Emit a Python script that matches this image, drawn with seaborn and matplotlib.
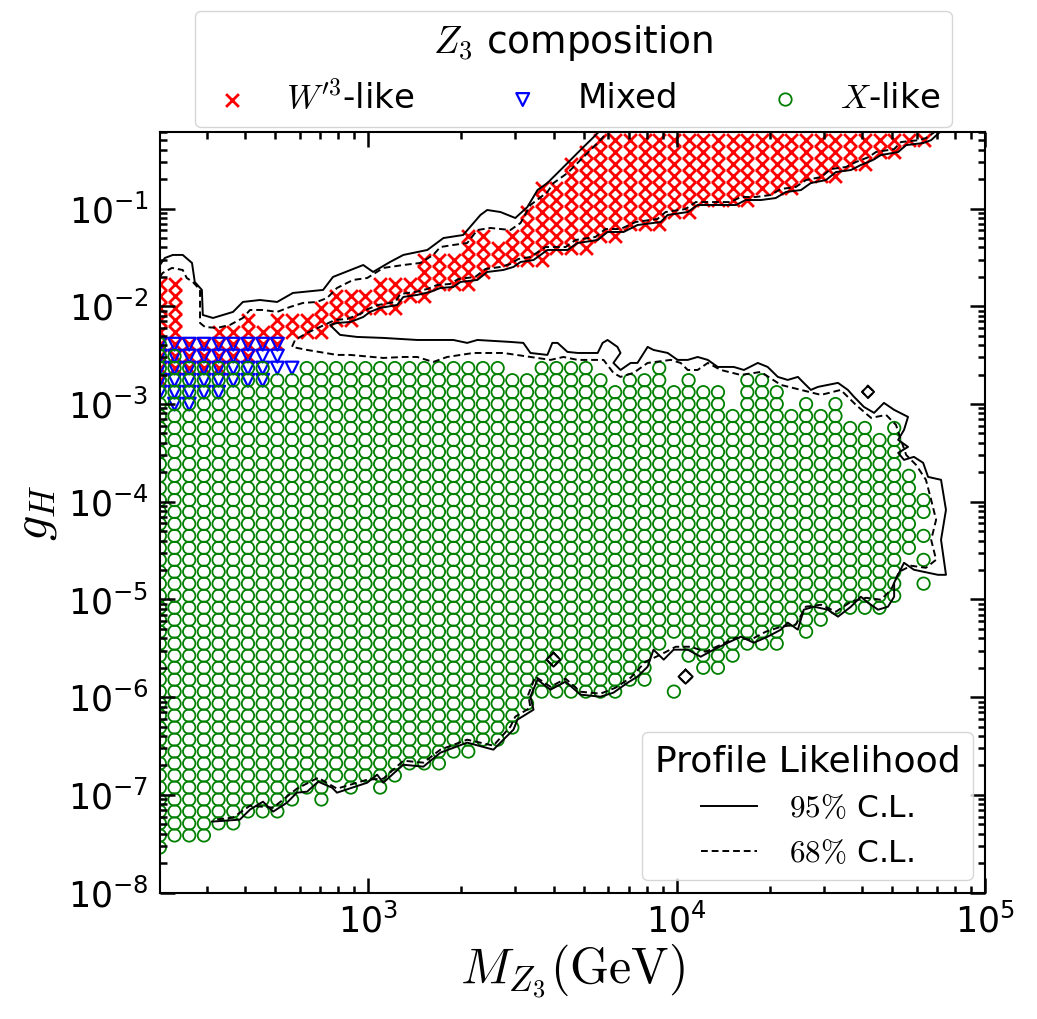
import matplotlib
matplotlib.use("Agg")
import matplotlib.pyplot as plt
from matplotlib.lines import Line2D
from matplotlib.ticker import LogLocator, NullFormatter
import numpy as np
import pandas as pd
import seaborn as sns

# scan grid
mass_grid = [211.2, 235.7, 263.0, 293.5, 327.5, 365.4, 407.7, 455.0, 507.7, 566.5,
             632.2, 705.4, 787.1, 878.4, 980.1, 1093.7, 1220.4, 1361.8, 1519.6, 1695.6,
             1892.1, 2111.4, 2356.0, 2629.0, 2933.6, 3273.4, 3652.6, 4075.8, 4548.0, 5074.9,
             5662.9, 6319.0, 7051.2, 7868.0, 8779.6, 9796.8, 10932, 12198, 13611, 15188,
             16948, 18912, 21103, 23547, 26275, 29320, 32717, 36508, 40737, 45457,
             50724, 56600, 63158]
g_grid = [2.90e-8, 3.85e-8, 5.11e-8, 6.78e-8, 8.98e-8, 1.19e-7, 1.58e-7, 2.10e-7, 2.78e-7, 3.68e-7,
          4.89e-7, 6.48e-7, 8.60e-7, 1.14e-6, 1.51e-6, 2.00e-6, 2.66e-6, 3.53e-6, 4.68e-6, 6.20e-6,
          8.22e-6, 1.09e-5, 1.45e-5, 1.92e-5, 2.54e-5, 3.37e-5, 4.47e-5, 5.93e-5, 7.86e-5, 1.04e-4,
          1.38e-4, 1.84e-4, 2.43e-4, 3.23e-4, 4.28e-4, 5.68e-4, 7.53e-4, 9.98e-4, 1.32e-3, 1.75e-3,
          2.33e-3, 3.09e-3, 4.09e-3, 5.43e-3, 7.20e-3, 9.55e-3, 1.27e-2, 1.68e-2, 2.23e-2, 2.95e-2,
          3.92e-2, 5.20e-2, 6.89e-2, 9.14e-2, 0.121, 0.161, 0.213, 0.283, 0.375, 0.497]

# row range (index into g_grid) of each composition, per mass column
green_lo = [0, 1, 1, 1, 2, 2, 3, 3, 3, 4, 5, 4, 6, 5, 6, 5, 6, 7, 7, 7,
            8, 8, 9, 9, 10, 12, 13, 13, 13, 13, 13, 13, 14, 14, 17, 18, 16, 15, 15, 16,
            17, 17, 17, 19, 18, 19, 20, 20, 20, 20, 21, 25, 0]
green_hi = [42, 41, 40, 40, 40, 40, 40, 40, 39, 39, 40, 40, 40, 40, 40, 40, 40, 40, 40, 40,
            40, 40, 40, 40, 39, 39, 40, 40, 40, 40, 39, 38, 39, 39, 40, 38, 39, 38, 38, 36,
            39, 39, 38, 36, 37, 36, 37, 35, 35, 34, 35, 31, -1]
green_extra_col = [35, 52, 52, 52, 52, 52]
green_extra_row = [13, 22, 24, 26, 28, 29]

red_lo = [39, 40, 40, 40, 40, 41, 41, 42, 42, 43, 43, 43, 44, 44, 45, 45, 45, 46, 46, 47,
          47, 47, 48, 49, 49, 49, 49, 50, 50, 50, 51, 51, 52, 52, 52, 53, 53, 54, 54, 54,
          54, 55, 55, 55, 56, 56, 56, 57, 57, 58, 58, 59, 59]
red_hi = [47, 47, 42, 42, 43, 43, 44, 43, 44, 44, 44, 45, 46, 46, 46, 47, 47, 47, 49, 49,
          49, 51, 51, 50, 51, 53, 55, 55, 57, 58, 59, 59, 59, 59, 59, 59, 59, 59, 59, 59,
          59, 59, 59, 59, 59, 59, 59, 59, 59, 59, 59, 59, 59]

blue_lo = [38, 37, 37, 38, 38, 39, 39, 39, 40, 40]
blue_hi = [42, 42, 42, 42, 42, 42, 42, 42, 42, 40]

# profile likelihood contours, (log10 M, log10 g)
cl95_top = [(2.325, -1.578), (2.341, -1.506), (2.367, -1.475), (2.399, -1.475), (2.429, -1.557),
            (2.438, -1.752), (2.461, -1.833), (2.464, -2.089), (2.497, -2.120), (2.562, -2.058),
            (2.594, -1.956), (2.649, -1.936), (2.705, -1.956), (2.756, -1.864), (2.854, -1.833),
            (2.886, -1.700), (2.919, -1.659), (2.984, -1.578), (3.016, -1.649), (3.071, -1.547),
            (3.114, -1.475), (3.192, -1.424), (3.244, -1.302), (3.308, -1.271), (3.364, -1.066),
            (3.386, -1.015), (3.429, -1.036), (3.477, -1.097), (3.516, -0.985), (3.549, -0.811),
            (3.581, -0.739), (3.633, -0.576), (3.688, -0.402), (3.731, -0.269), (3.769, -0.146)]
cl95_main = [(4.857, -0.207), (4.825, -0.300), (4.799, -0.330), (4.744, -0.351), (4.718, -0.422),
             (4.662, -0.453), (4.636, -0.504), (4.597, -0.555), (4.565, -0.606), (4.516, -0.627),
             (4.484, -0.709), (4.435, -0.739), (4.403, -0.811), (4.354, -0.831), (4.321, -0.893),
             (4.273, -0.913), (4.224, -0.913), (4.192, -0.964), (4.068, -0.964), (4.036, -1.036),
             (3.971, -1.066), (3.948, -1.138), (3.873, -1.169), (3.828, -1.240), (3.776, -1.240),
             (3.744, -1.322), (3.679, -1.353), (3.646, -1.424), (3.581, -1.424), (3.536, -1.527),
             (3.494, -1.547), (3.471, -1.598), (3.438, -1.629), (3.386, -1.649), (3.354, -1.731),
             (3.299, -1.752), (3.276, -1.803), (3.234, -1.813), (3.201, -1.854), (3.159, -1.884),
             (3.114, -1.905), (3.094, -1.987), (3.039, -2.017), (3.006, -2.058), (2.984, -2.110),
             (2.942, -2.161), (2.899, -2.171), (2.877, -2.191), (2.886, -2.222), (2.909, -2.293),
             (2.964, -2.314), (3.049, -2.324), (3.159, -2.345), (3.276, -2.345), (3.321, -2.375),
             (3.354, -2.345), (3.461, -2.365), (3.503, -2.375), (3.526, -2.478), (3.581, -2.498),
             (3.597, -2.375), (3.614, -2.375), (3.646, -2.467), (3.679, -2.478), (3.744, -2.478),
             (3.760, -2.375), (3.776, -2.345), (3.808, -2.416), (3.818, -2.478), (3.795, -2.580),
             (3.818, -2.652), (3.851, -2.580), (3.873, -2.580), (3.906, -2.416), (3.925, -2.447),
             (3.971, -2.478), (4.003, -2.549), (4.036, -2.549), (4.068, -2.519), (4.101, -2.549),
             (4.133, -2.621), (4.185, -2.621), (4.218, -2.652), (4.263, -2.580), (4.295, -2.621),
             (4.328, -2.723), (4.360, -2.754), (4.393, -2.723), (4.412, -2.784), (4.435, -2.856),
             (4.458, -2.825), (4.490, -2.805), (4.523, -2.784), (4.555, -2.856), (4.575, -2.927),
             (4.607, -3.030), (4.640, -3.091), (4.672, -2.989), (4.705, -3.060), (4.750, -3.132),
             (4.737, -3.265), (4.718, -3.367), (4.750, -3.439), (4.718, -3.500), (4.737, -3.572),
             (4.769, -3.541), (4.799, -3.602), (4.815, -3.746), (4.857, -3.776), (4.873, -4.083),
             (4.857, -4.390), (4.873, -4.748), (4.847, -4.748), (4.769, -4.696), (4.737, -4.625),
             (4.705, -4.829), (4.705, -4.972), (4.685, -5.074), (4.653, -5.105), (4.620, -5.033),
             (4.597, -4.972), (4.565, -5.074), (4.523, -5.176), (4.490, -5.105), (4.445, -5.074),
             (4.412, -5.105), (4.393, -5.309), (4.360, -5.237), (4.338, -5.309), (4.295, -5.381),
             (4.250, -5.443), (4.208, -5.381), (4.166, -5.443), (4.120, -5.514), (4.078, -5.586),
             (4.036, -5.514), (3.990, -5.514), (3.958, -5.616), (3.925, -5.514), (3.906, -5.688),
             (3.873, -5.790), (3.841, -5.852), (3.795, -5.954), (3.753, -5.995), (3.688, -5.974),
             (3.640, -5.841), (3.591, -5.923), (3.549, -5.821), (3.526, -5.995), (3.536, -6.128),
             (3.484, -6.230), (3.471, -6.332), (3.406, -6.537), (3.321, -6.465), (3.234, -6.568),
             (3.179, -6.711), (3.114, -6.691), (3.049, -6.875), (3.029, -6.793), (2.997, -6.875),
             (2.899, -6.977), (2.883, -6.926), (2.838, -6.864), (2.802, -6.967), (2.769, -6.977),
             (2.737, -7.079), (2.692, -7.171), (2.659, -7.069), (2.617, -7.150), (2.584, -7.253),
             (2.494, -7.273)]
cl68_top = [(2.325, -1.700), (2.334, -1.659), (2.364, -1.608), (2.399, -1.629), (2.412, -1.711),
            (2.432, -1.752), (2.455, -1.833), (2.455, -2.171), (2.471, -2.212), (2.510, -2.222),
            (2.552, -2.191), (2.594, -2.120), (2.617, -2.038), (2.659, -2.038), (2.705, -2.058),
            (2.747, -2.007), (2.789, -1.966), (2.834, -1.956), (2.867, -1.915), (2.899, -1.813),
            (2.951, -1.731), (2.997, -1.711), (3.049, -1.608), (3.114, -1.578), (3.169, -1.557),
            (3.211, -1.475), (3.234, -1.394), (3.276, -1.373), (3.321, -1.353), (3.354, -1.220),
            (3.396, -1.199), (3.461, -1.220), (3.494, -1.148), (3.526, -0.964), (3.581, -0.831),
            (3.601, -0.739), (3.646, -0.637), (3.711, -0.432), (3.753, -0.300), (3.786, -0.177)]
cl68_main = [(4.841, -0.207), (4.808, -0.279), (4.786, -0.300), (4.727, -0.320), (4.705, -0.392),
             (4.646, -0.422), (4.623, -0.473), (4.581, -0.524), (4.549, -0.575), (4.500, -0.596),
             (4.468, -0.678), (4.419, -0.709), (4.386, -0.780), (4.338, -0.800), (4.305, -0.862),
             (4.256, -0.882), (4.208, -0.882), (4.175, -0.934), (4.062, -0.934), (4.029, -1.005),
             (3.964, -1.036), (3.938, -1.107), (3.867, -1.138), (3.818, -1.210), (3.769, -1.210),
             (3.737, -1.291), (3.672, -1.322), (3.640, -1.394), (3.575, -1.394), (3.526, -1.496),
             (3.487, -1.516), (3.461, -1.567), (3.429, -1.598), (3.380, -1.619), (3.347, -1.700),
             (3.292, -1.721), (3.266, -1.772), (3.224, -1.782), (3.192, -1.823), (3.153, -1.854),
             (3.104, -1.874), (3.088, -1.956), (3.032, -1.987), (3.000, -2.028), (2.974, -2.079),
             (2.932, -2.130), (2.893, -2.140), (2.844, -2.212), (2.802, -2.273), (2.763, -2.345),
             (2.753, -2.416), (2.802, -2.447), (2.899, -2.498), (2.942, -2.498), (3.049, -2.529),
             (3.114, -2.519), (3.159, -2.519), (3.211, -2.570), (3.256, -2.519), (3.341, -2.478),
             (3.438, -2.478), (3.526, -2.519), (3.591, -2.549), (3.633, -2.519), (3.679, -2.549),
             (3.763, -2.549), (3.795, -2.682), (3.818, -2.723), (3.860, -2.682), (3.906, -2.580),
             (3.981, -2.549), (4.013, -2.580), (4.036, -2.652), (4.068, -2.652), (4.101, -2.580),
             (4.143, -2.652), (4.208, -2.703), (4.273, -2.672), (4.338, -2.805), (4.403, -2.856),
             (4.468, -2.907), (4.532, -2.856), (4.581, -3.009), (4.630, -3.142), (4.679, -3.112),
             (4.711, -3.214), (4.727, -3.367), (4.744, -3.521), (4.776, -3.623), (4.808, -3.776),
             (4.825, -3.981), (4.841, -4.185), (4.825, -4.390), (4.841, -4.594), (4.808, -4.676),
             (4.760, -4.655), (4.721, -4.717), (4.695, -4.901), (4.662, -5.003), (4.614, -4.983),
             (4.565, -5.023), (4.516, -5.126), (4.468, -5.054), (4.419, -5.074), (4.386, -5.258),
             (4.338, -5.279), (4.289, -5.330), (4.240, -5.412), (4.192, -5.392), (4.143, -5.463),
             (4.094, -5.535), (4.045, -5.484), (3.997, -5.484), (3.948, -5.565), (3.899, -5.637),
             (3.851, -5.800), (3.802, -5.903), (3.753, -5.964), (3.688, -5.944), (3.640, -5.811),
             (3.591, -5.893), (3.542, -5.790), (3.519, -5.974), (3.526, -6.107), (3.477, -6.199),
             (3.461, -6.302), (3.406, -6.496), (3.321, -6.435), (3.234, -6.537), (3.179, -6.670),
             (3.114, -6.650), (3.049, -6.834), (2.997, -6.844), (2.899, -6.936), (2.838, -6.824),
             (2.769, -6.936), (2.692, -7.130), (2.617, -7.110), (2.562, -7.232), (2.503, -7.253)]
islands = [
    [(4.029, -5.719), (4.052, -5.790), (4.029, -5.862), (4.006, -5.790), (4.029, -5.719)],
    [(4.620, -2.815), (4.640, -2.876), (4.620, -2.938), (4.601, -2.876), (4.620, -2.815)],
    [(3.601, -5.545), (3.623, -5.616), (3.601, -5.688), (3.578, -5.616), (3.601, -5.545)],
]

# build the point table
pts = []
for k, m in enumerate(mass_grid):
    for j in range(red_lo[k], red_hi[k] + 1):
        pts.append((m, g_grid[j], "W"))
    if k < len(blue_lo):
        for j in range(blue_lo[k], blue_hi[k] + 1):
            pts.append((m, g_grid[j], "mixed"))
    for j in range(green_lo[k], green_hi[k] + 1):
        pts.append((m, g_grid[j], "X"))
for k, j in zip(green_extra_col, green_extra_row):
    pts.append((mass_grid[k], g_grid[j], "X"))
df = pd.DataFrame(pts, columns=["M", "g", "comp"])

plt.rcParams["mathtext.fontset"] = "cm"
plt.rcParams["font.family"] = ["DejaVu Sans"]

fig, ax = plt.subplots(figsize=(10.37, 10.19), dpi=100)
fig.subplots_adjust(left=0.154, right=0.950, top=0.870, bottom=0.124)

sns.scatterplot(data=df[df.comp == "W"], x="M", y="g", marker="x", color="red",
                s=85, linewidth=2.0, ax=ax, label=r"$W^{\prime 3}$-like", legend=False)
sns.scatterplot(data=df[df.comp == "mixed"], x="M", y="g", marker="v", color="blue",
                facecolor="none", edgecolor="blue", s=85, linewidth=1.6, ax=ax,
                label="Mixed", legend=False)
sns.scatterplot(data=df[df.comp == "X"], x="M", y="g", marker="o", color="green",
                facecolor="none", edgecolor="green", s=80, linewidth=1.3, ax=ax,
                label=r"$X$-like", legend=False)

dash = (0, (3.5, 2))
for path, ls in [(cl95_top, "-"), (cl95_main, "-"), (cl68_top, dash), (cl68_main, dash)]:
    arr = np.array(path)
    ax.plot(10 ** arr[:, 0], 10 ** arr[:, 1], color="k", lw=1.4, ls=ls)
for isl in islands:
    arr = np.array(isl)
    ax.plot(10 ** arr[:, 0], 10 ** arr[:, 1], color="k", lw=1.4, ls="-")
    ax.plot(10 ** arr[:, 0], 10 ** arr[:, 1], color="k", lw=1.4, ls=dash)

ax.set_xscale("log")
ax.set_yscale("log")
ax.set_xlim(211, 1e5)
ax.set_ylim(1e-8, 0.6)
ax.xaxis.set_major_locator(LogLocator(base=10, numticks=20))
ax.xaxis.set_minor_locator(LogLocator(base=10, subs=np.arange(2, 10), numticks=20))
ax.yaxis.set_major_locator(LogLocator(base=10, numticks=20))
ax.yaxis.set_minor_locator(LogLocator(base=10, subs=np.arange(2, 10), numticks=20))
ax.xaxis.set_minor_formatter(NullFormatter())
ax.yaxis.set_minor_formatter(NullFormatter())

ax.tick_params(which="both", direction="in", top=True, right=True, width=1.8)
ax.tick_params(which="major", length=11, labelsize=25, pad=8)
ax.tick_params(which="minor", length=5)
for sp in ax.spines.values():
    sp.set_linewidth(1.5)

ax.set_xlabel(r"$M_{Z_3}(\mathrm{GeV})$", fontsize=36, labelpad=2)
ax.set_ylabel(r"$g_H$", fontsize=36, labelpad=6)

handles, labels = ax.get_legend_handles_labels()
leg1 = ax.legend(handles, labels, title=r"$Z_3$ composition", ncol=3, mode="expand",
                 loc="lower left", bbox_to_anchor=(0.036, 1.0, 0.93, 0.1),
                 fontsize=24.5, title_fontsize=27, borderaxespad=0.15,
                 handlelength=1.5, handletextpad=0.85, borderpad=0.35)
ax.add_artist(leg1)

cl_handles = [Line2D([], [], color="k", lw=1.4, ls="-"),
              Line2D([], [], color="k", lw=1.4, ls=dash)]
ax.legend(cl_handles, [r"$95\%$ C.L.", r"$68\%$ C.L."], title="Profile Likelihood",
          loc="lower right", fontsize=22.5, title_fontsize=26,
          handlelength=1.8, handletextpad=1.0, borderaxespad=0.4)

plt.savefig("out.png", dpi=100)
